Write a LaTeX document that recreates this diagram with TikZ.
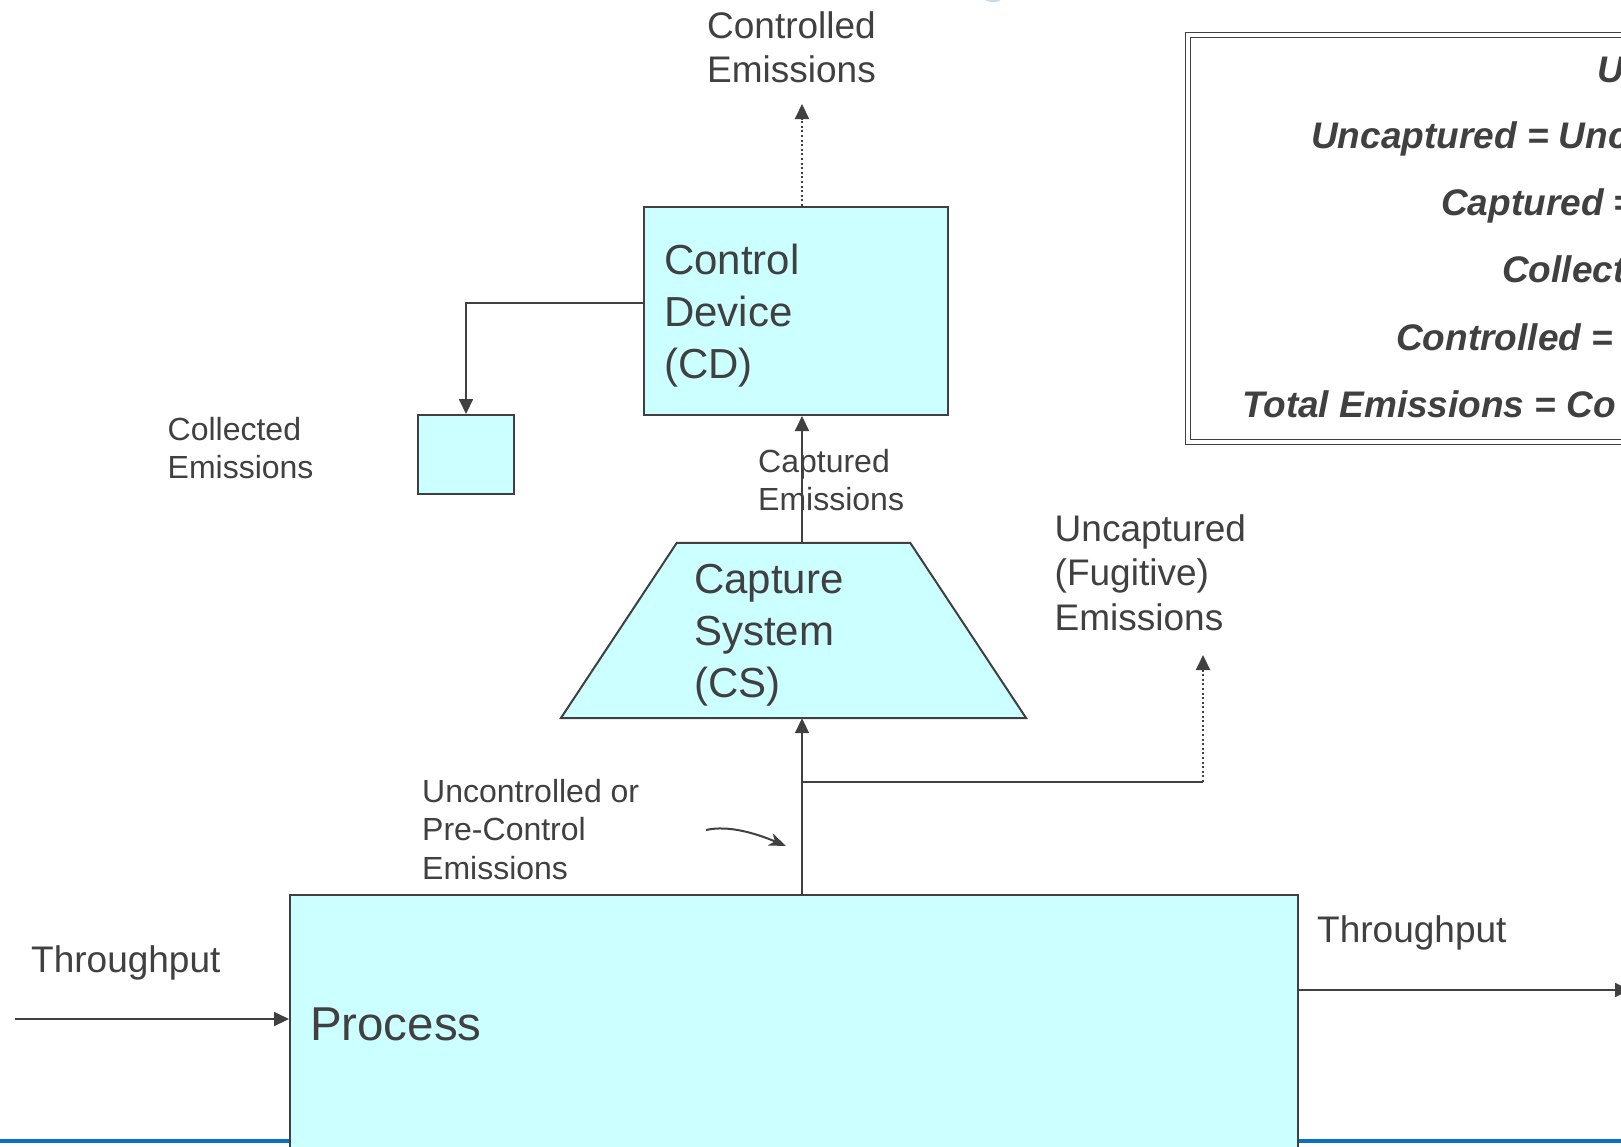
\documentclass[tikz,border=0pt]{standalone}
\usepackage{fontspec}
\setmainfont{Liberation Sans}
\usetikzlibrary{arrows.meta,shapes.geometric,positioning}
\definecolor{boxfill}{HTML}{CCFFFF}
\definecolor{inkgray}{HTML}{404040}
\definecolor{slideblue}{HTML}{0A6FC8}

\begin{document}
\begin{tikzpicture}[
        x=1pt, y=-1pt,
        box/.style={draw=inkgray, fill=boxfill, line width=2pt, inner sep=0pt},
        flow/.style={draw=inkgray, line width=2pt, -{Triangle[length=15pt,width=14pt]}},
        fugitive/.style={flow, dash pattern=on 2pt off 2.6pt},
        lbl/.style={text=inkgray, align=left, inner sep=0pt, anchor=west},
        smalltxt/.style={font=\fontsize{32}{38.5}\selectfont},
        midtxt/.style={font=\fontsize{37}{44.5}\selectfont},
        bigtxt/.style={font=\fontsize{42}{52}\selectfont},
        eqn/.style={text=inkgray, inner sep=0pt, anchor=base west, font=\fontsize{37}{44}\selectfont\bfseries\itshape}
    ]
    \useasboundingbox (0,0) rectangle (1621,1146);
    \fill[white] (0,0) rectangle (1621,1146);
    \clip (0,0) rectangle (1621,1146);

    % slide decoration
    \fill[slideblue!25] (993,-2) ellipse (9 and 4);
    \draw[slideblue, line width=4pt] (0,1141) -- (1621,1141);

    % Nodes
    \node (process)[box, minimum width=1008, minimum height=258, text width=968, text=inkgray, align=left,
        font=\fontsize{47.5}{56}\selectfont] at (794,1024) {Process};

    % capture system: trapezoid over the node's frame
    \node (cs)[inner sep=0pt, minimum width=465, minimum height=175] at (793.5,630.5) {};
    \draw[box] (cs.south west) -- (cs.south east) -- ([xshift=-116pt]cs.north east)
        -- ([xshift=116pt]cs.north west) -- cycle;
    \node (cslabel)[lbl, bigtxt] at (694,635.5) {Capture\\ System\\ (CS)};

    \node (cd)[box, minimum width=304, minimum height=208] at (796,311) {};
    \node (cdlabel)[lbl, bigtxt] at (664,316) {Control\\ Device\\ (CD)};

    \node (collbox)[box, minimum width=96, minimum height=79] at (466,454.5) {};

    \node (legend)[draw=inkgray, double=white, double distance=3.5pt, line width=1.5pt,
        minimum width=520, minimum height=407, inner sep=0pt] at (1448,238.5) {};

    \node (controlled)[lbl, midtxt] at (707,47.5) {Controlled\\ Emissions};
    \node (collected)[lbl, smalltxt] at (167.5,448) {Collected\\ Emissions};
    \node (captured)[lbl, smalltxt] at (758,480) {Captured\\ Emissions};
    \node (uncaptured)[lbl, midtxt] at (1054.5,572.5) {Uncaptured\\ (Fugitive)\\ Emissions};
    \node (precontrol)[lbl, smalltxt] at (422,829.5) {Uncontrolled or\\ Pre-Control\\ Emissions};
    \node (thruin)[lbl, midtxt, anchor=base west] at (31,972) {Throughput};
    \node (thruout)[lbl, midtxt, anchor=base west] at (1317,942) {Throughput};

    \node (eq1)[eqn] at (1597,82) {U};
    \node (eq2)[eqn] at (1311,148) {Uncaptured = Unc};
    \node (eq3)[eqn] at (1441,215) {Captured =};
    \node (eq4)[eqn] at (1502,282) {Collect};
    \node (eq5)[eqn] at (1396,350) {Controlled =};
    \node (eq6)[eqn] at (1242,417) {Total Emissions = Co};

    % Points
    \coordinate (axis) at (802,0);
    \coordinate (split) at (802,782);
    \coordinate (fugturn) at (1203,782);
    \coordinate (fugend) at (1203,655);
    \coordinate (ctrlend) at (802,104);
    \coordinate (collturn) at (466,303);
    \coordinate (thrustart) at (15,1019);
    \coordinate (thruend) at (1630,990);
    \coordinate (curvestart) at (706,830);
    \coordinate (curveend) at (786,846);

    % Edges
    \draw[flow] (process.north -| axis) -- (cs.south -| axis);
    \draw[draw=inkgray, line width=2pt] (split) -- (fugturn);
    \draw[fugitive] (fugturn) -- (fugend);
    \draw[flow] (cs.north -| axis) -- (cd.south -| axis);
    \draw[fugitive] (cd.north -| axis) -- (ctrlend);
    \draw[flow] (cd.west |- collturn) -- (collturn) -- (collbox.north);
    \draw[flow] (thrustart) -- (process.west |- thrustart);
    \draw[flow] (process.east |- thruend) -- (thruend);
    \draw[draw=inkgray, line width=2pt, -{Stealth[length=17pt,width=13pt,inset=5pt]}]
        (curvestart) .. controls (728,825) and (755,833) .. (curveend);

\end{tikzpicture}
\end{document}
